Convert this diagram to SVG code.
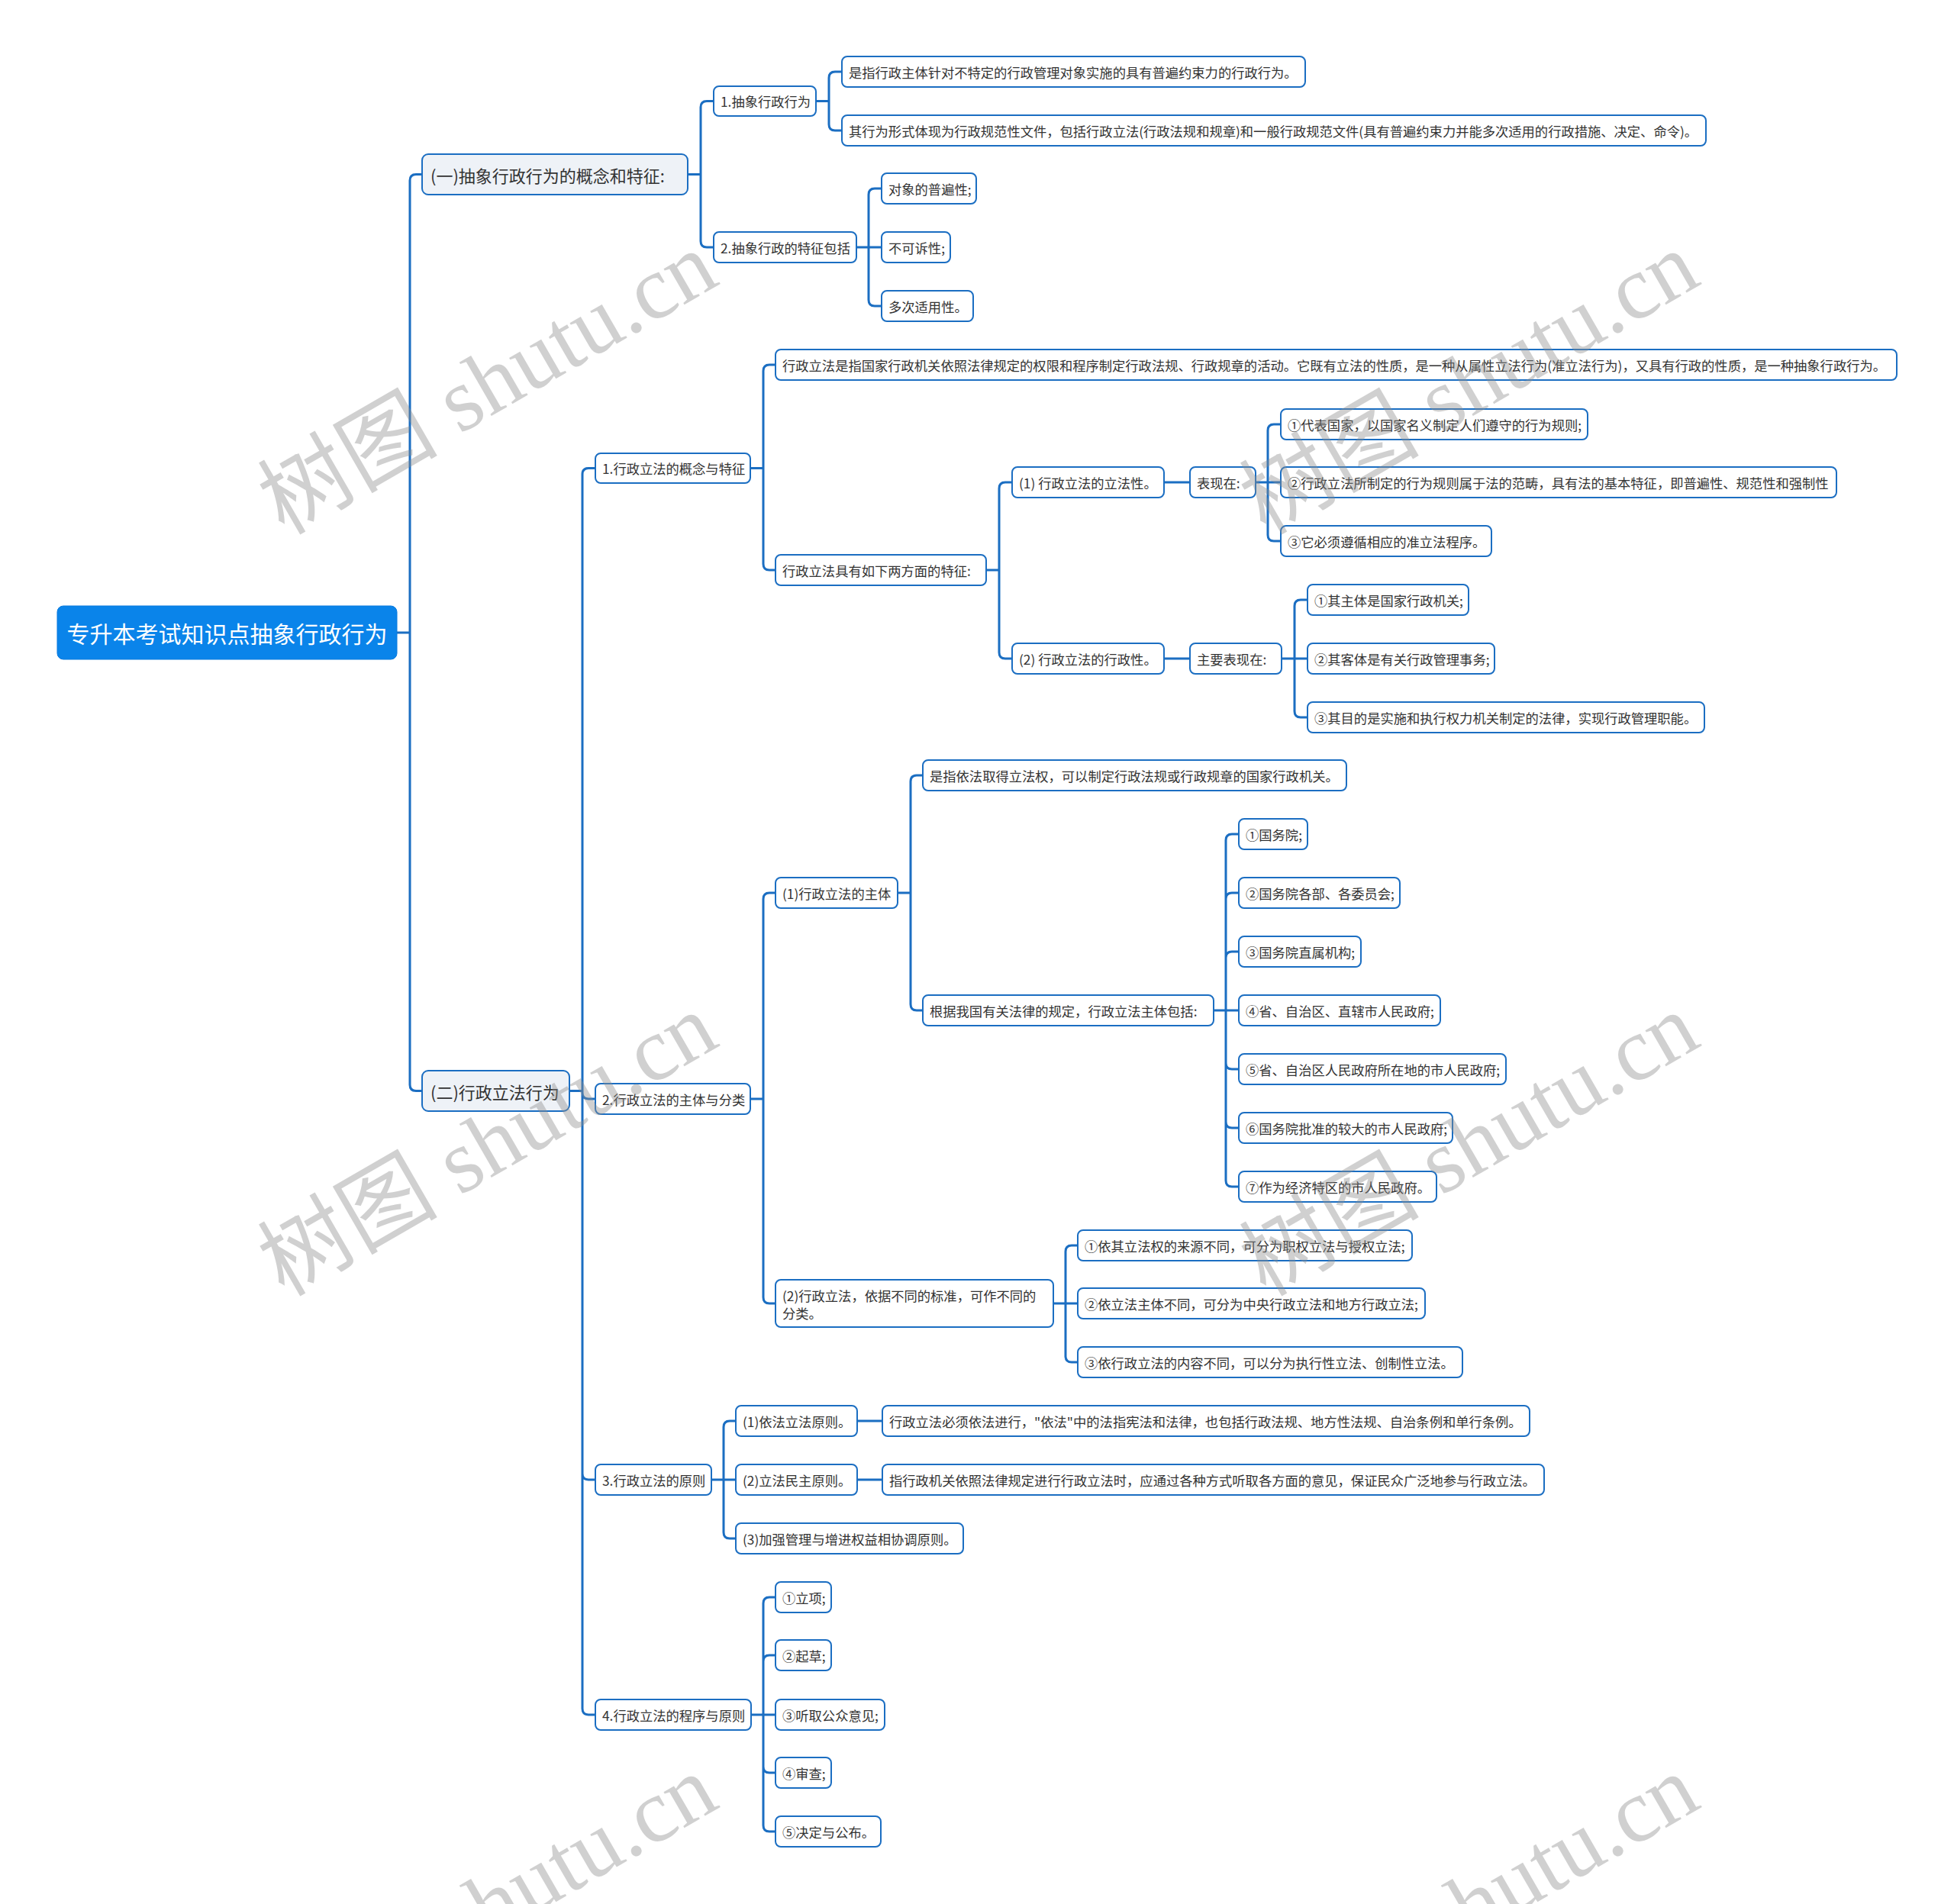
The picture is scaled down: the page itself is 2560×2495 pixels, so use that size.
<svg xmlns="http://www.w3.org/2000/svg" width="2560" height="2495" viewBox="0 0 2560 2495">
<style>
.n rect{fill:#ffffff;stroke:#1b6ec2;stroke-width:2}
.n text{font-family:"Noto Sans CJK SC","Liberation Sans",sans-serif;font-size:17.3px;fill:#333333;dominant-baseline:central}
.l1 rect{fill:#eef2f7;stroke:#1b6ec2;stroke-width:2}
.l1 text{font-family:"Noto Sans CJK SC","Liberation Sans",sans-serif;font-size:22px;fill:#333333;dominant-baseline:central}
.root rect{fill:#0a84ea;stroke:#0a7ade;stroke-width:1}
.root text{font-family:"Noto Sans CJK SC","Liberation Sans",sans-serif;font-size:30px;fill:#ffffff;dominant-baseline:central;text-anchor:middle}
.c path{fill:none;stroke:#1b6ec2;stroke-width:3;stroke-linecap:round}
.wm text{font-family:"Liberation Serif","Noto Sans CJK SC",serif;font-size:118px;fill:#8c8c8c;opacity:0.4}
</style>
<rect x="0" y="0" width="2560" height="2495" fill="#ffffff"/>
<g id="connectors" class="c">
<path d="M520 829 H537 M537 829 V236.5 Q537 228.5 545 228.5 H553 M537 829 V1421.5 Q537 1429.5 545 1429.5 H553"/>
<path d="M901 228.5 H918 M918 228.5 V140.5 Q918 132.5 926 132.5 H935 M918 228.5 V316 Q918 324 926 324 H935"/>
<path d="M1069 132.5 H1086 M1086 132.5 V102 Q1086 94 1094 94 H1103 M1086 132.5 V163 Q1086 171 1094 171 H1103"/>
<path d="M1122 324 H1155 M1138 324 V255 Q1138 247 1146 247 H1155 M1138 324 V393 Q1138 401 1146 401 H1155"/>
<path d="M746 1429.5 H763 M763 1429.5 V621.5 Q763 613.5 771 613.5 H780 M763 1429.5 V1432 Q763 1440 771 1440 H780 M763 1429.5 V1931 Q763 1939 771 1939 H780 M763 1429.5 V2239 Q763 2247 771 2247 H780"/>
<path d="M983 613.5 H1000 M1000 613.5 V486 Q1000 478 1008 478 H1016 M1000 613.5 V739 Q1000 747 1008 747 H1016"/>
<path d="M1292 747 H1309 M1309 747 V640 Q1309 632 1317 632 H1326 M1309 747 V855 Q1309 863 1317 863 H1326"/>
<path d="M1525 632 H1559 M1645 632 H1678 M1661 632 V564 Q1661 556 1669 556 H1678 M1661 632 V701 Q1661 709 1669 709 H1678"/>
<path d="M1525 863 H1559 M1679 863 H1713 M1696 863 V794 Q1696 786 1704 786 H1713 M1696 863 V932 Q1696 940 1704 940 H1713"/>
<path d="M983 1440 H1000 M1000 1440 V1178 Q1000 1170 1008 1170 H1016 M1000 1440 V1700 Q1000 1708 1008 1708 H1016"/>
<path d="M1176 1170 H1193 M1193 1170 V1024 Q1193 1016 1201 1016 H1209 M1193 1170 V1316 Q1193 1324 1201 1324 H1209"/>
<path d="M1590 1324 H1623 M1606 1324 V1101 Q1606 1093 1614 1093 H1623 M1606 1324 V1178 Q1606 1170 1614 1170 H1623 M1606 1324 V1255 Q1606 1247 1614 1247 H1623 M1606 1324 V1393 Q1606 1401 1614 1401 H1623 M1606 1324 V1470 Q1606 1478 1614 1478 H1623 M1606 1324 V1547 Q1606 1555 1614 1555 H1623"/>
<path d="M1380 1708 H1412 M1396 1708 V1640 Q1396 1632 1404 1632 H1412 M1396 1708 V1777 Q1396 1785 1404 1785 H1412"/>
<path d="M932 1939 H964 M948 1939 V1870 Q948 1862 956 1862 H964 M948 1939 V2008 Q948 2016 956 2016 H964 M1123 1862 H1156 M1123 1939 H1156"/>
<path d="M984 2247 H1016 M1000 2247 V2101 Q1000 2093 1008 2093 H1016 M1000 2247 V2177 Q1000 2169 1008 2169 H1016 M1000 2247 V2315 Q1000 2323 1008 2323 H1016 M1000 2247 V2392 Q1000 2400 1008 2400 H1016"/>
</g>
<g id="root" class="root"><rect x="75" y="794" width="445" height="70" rx="8"/><text x="297.5" y="829">专升本考试知识点抽象行政行为</text></g>
<g id="nA" class="l1"><rect x="553" y="202" width="348" height="53" rx="8"/><text x="564" y="228.5">(一)抽象行政行为的概念和特征:</text></g>
<g id="nB" class="l1"><rect x="553" y="1403" width="193" height="53" rx="8"/><text x="564" y="1429.5">(二)行政立法行为</text></g>
<g id="nA1" class="n"><rect x="935" y="113" width="134" height="39" rx="7"/><text x="944" y="132.5">1.抽象行政行为</text></g>
<g id="nA1a" class="n"><rect x="1103" y="74" width="607" height="40" rx="7"/><text x="1112" y="94">是指行政主体针对不特定的行政管理对象实施的具有普遍约束力的行政行为。</text></g>
<g id="nA1b" class="n"><rect x="1103" y="151" width="1132" height="40" rx="7"/><text x="1112" y="171">其行为形式体现为行政规范性文件，包括行政立法(行政法规和规章)和一般行政规范文件(具有普遍约束力并能多次适用的行政措施、决定、命令)。</text></g>
<g id="nA2" class="n"><rect x="935" y="304" width="187" height="40" rx="7"/><text x="944" y="324">2.抽象行政的特征包括</text></g>
<g id="nA2a" class="n"><rect x="1155" y="227" width="124" height="40" rx="7"/><text x="1164" y="247">对象的普遍性;</text></g>
<g id="nA2b" class="n"><rect x="1155" y="304" width="90" height="40" rx="7"/><text x="1164" y="324">不可诉性;</text></g>
<g id="nA2c" class="n"><rect x="1155" y="381" width="120" height="40" rx="7"/><text x="1164" y="401">多次适用性。</text></g>
<g id="nB1" class="n"><rect x="780" y="594" width="203" height="39" rx="7"/><text x="789" y="613.5">1.行政立法的概念与特征</text></g>
<g id="nB1a" class="n"><rect x="1016" y="458" width="1469" height="40" rx="7"/><text x="1025" y="478">行政立法是指国家行政机关依照法律规定的权限和程序制定行政法规、行政规章的活动。它既有立法的性质，是一种从属性立法行为(准立法行为)，又具有行政的性质，是一种抽象行政行为。</text></g>
<g id="nB1b" class="n"><rect x="1016" y="727" width="276" height="40" rx="7"/><text x="1025" y="747">行政立法具有如下两方面的特征:</text></g>
<g id="nB1b1" class="n"><rect x="1326" y="612" width="199" height="40" rx="7"/><text x="1335" y="632">(1) 行政立法的立法性。</text></g>
<g id="nB1b1x" class="n"><rect x="1559" y="612" width="86" height="40" rx="7"/><text x="1568" y="632">表现在:</text></g>
<g id="nC1" class="n"><rect x="1678" y="536" width="402" height="40" rx="7"/><text x="1687" y="556">①代表国家，以国家名义制定人们遵守的行为规则;</text></g>
<g id="nC2" class="n"><rect x="1678" y="612" width="728" height="40" rx="7"/><text x="1687" y="632">②行政立法所制定的行为规则属于法的范畴，具有法的基本特征，即普遍性、规范性和强制性</text></g>
<g id="nC3" class="n"><rect x="1678" y="689" width="276" height="40" rx="7"/><text x="1687" y="709">③它必须遵循相应的准立法程序。</text></g>
<g id="nB1b2" class="n"><rect x="1326" y="843" width="199" height="40" rx="7"/><text x="1335" y="863">(2) 行政立法的行政性。</text></g>
<g id="nB1b2x" class="n"><rect x="1559" y="843" width="120" height="40" rx="7"/><text x="1568" y="863">主要表现在:</text></g>
<g id="nD1" class="n"><rect x="1713" y="766" width="211" height="40" rx="7"/><text x="1722" y="786">①其主体是国家行政机关;</text></g>
<g id="nD2" class="n"><rect x="1713" y="843" width="245" height="40" rx="7"/><text x="1722" y="863">②其客体是有关行政管理事务;</text></g>
<g id="nD3" class="n"><rect x="1713" y="920" width="520" height="40" rx="7"/><text x="1722" y="940">③其目的是实施和执行权力机关制定的法律，实现行政管理职能。</text></g>
<g id="nB2" class="n"><rect x="780" y="1420" width="203" height="40" rx="7"/><text x="789" y="1440">2.行政立法的主体与分类</text></g>
<g id="nB2a" class="n"><rect x="1016" y="1150" width="160" height="40" rx="7"/><text x="1025" y="1170">(1)行政立法的主体</text></g>
<g id="nB2a1" class="n"><rect x="1209" y="996" width="555" height="40" rx="7"/><text x="1218" y="1016">是指依法取得立法权，可以制定行政法规或行政规章的国家行政机关。</text></g>
<g id="nB2a2" class="n"><rect x="1209" y="1304" width="381" height="40" rx="7"/><text x="1218" y="1324">根据我国有关法律的规定，行政立法主体包括:</text></g>
<g id="nE1" class="n"><rect x="1623" y="1073" width="90" height="40" rx="7"/><text x="1632" y="1093">①国务院;</text></g>
<g id="nE2" class="n"><rect x="1623" y="1150" width="211" height="40" rx="7"/><text x="1632" y="1170">②国务院各部、各委员会;</text></g>
<g id="nE3" class="n"><rect x="1623" y="1227" width="160" height="40" rx="7"/><text x="1632" y="1247">③国务院直属机构;</text></g>
<g id="nE4" class="n"><rect x="1623" y="1304" width="264" height="40" rx="7"/><text x="1632" y="1324">④省、自治区、直辖市人民政府;</text></g>
<g id="nE5" class="n"><rect x="1623" y="1381" width="350" height="40" rx="7"/><text x="1632" y="1401">⑤省、自治区人民政府所在地的市人民政府;</text></g>
<g id="nE6" class="n"><rect x="1623" y="1458" width="280" height="40" rx="7"/><text x="1632" y="1478">⑥国务院批准的较大的市人民政府;</text></g>
<g id="nE7" class="n"><rect x="1623" y="1535" width="259" height="40" rx="7"/><text x="1632" y="1555">⑦作为经济特区的市人民政府。</text></g>
<g id="nB2b" class="n"><rect x="1016" y="1677" width="364" height="62" rx="7"/><text x="1025" y="1697">(2)行政立法，依据不同的标准，可作不同的</text><text x="1025" y="1720">分类。</text></g>
<g id="nF1" class="n"><rect x="1412" y="1612" width="438" height="40" rx="7"/><text x="1421" y="1632">①依其立法权的来源不同，可分为职权立法与授权立法;</text></g>
<g id="nF2" class="n"><rect x="1412" y="1688" width="455" height="40" rx="7"/><text x="1421" y="1708">②依立法主体不同，可分为中央行政立法和地方行政立法;</text></g>
<g id="nF3" class="n"><rect x="1412" y="1765" width="504" height="40" rx="7"/><text x="1421" y="1785">③依行政立法的内容不同，可以分为执行性立法、创制性立法。</text></g>
<g id="nB3" class="n"><rect x="780" y="1919" width="152" height="40" rx="7"/><text x="789" y="1939">3.行政立法的原则</text></g>
<g id="nG1" class="n"><rect x="964" y="1842" width="159" height="40" rx="7"/><text x="973" y="1862">(1)依法立法原则。</text></g>
<g id="nG1a" class="n"><rect x="1156" y="1842" width="848" height="40" rx="7"/><text x="1165" y="1862">行政立法必须依法进行，"依法"中的法指宪法和法律，也包括行政法规、地方性法规、自治条例和单行条例。</text></g>
<g id="nG2" class="n"><rect x="964" y="1919" width="159" height="40" rx="7"/><text x="973" y="1939">(2)立法民主原则。</text></g>
<g id="nG2a" class="n"><rect x="1156" y="1919" width="867" height="40" rx="7"/><text x="1165" y="1939">指行政机关依照法律规定进行行政立法时，应通过各种方式听取各方面的意见，保证民众广泛地参与行政立法。</text></g>
<g id="nG3" class="n"><rect x="964" y="1996" width="298" height="40" rx="7"/><text x="973" y="2016">(3)加强管理与增进权益相协调原则。</text></g>
<g id="nB4" class="n"><rect x="780" y="2227" width="204" height="40" rx="7"/><text x="789" y="2247">4.行政立法的程序与原则</text></g>
<g id="nH1" class="n"><rect x="1016" y="2073" width="73" height="40" rx="7"/><text x="1025" y="2093">①立项;</text></g>
<g id="nH2" class="n"><rect x="1016" y="2149" width="73" height="40" rx="7"/><text x="1025" y="2169">②起草;</text></g>
<g id="nH3" class="n"><rect x="1016" y="2227" width="143" height="40" rx="7"/><text x="1025" y="2247">③听取公众意见;</text></g>
<g id="nH4" class="n"><rect x="1016" y="2303" width="73" height="40" rx="7"/><text x="1025" y="2323">④审查;</text></g>
<g id="nH5" class="n"><rect x="1016" y="2380" width="138" height="40" rx="7"/><text x="1025" y="2400">⑤决定与公布。</text></g>
<g id="watermarks" class="wm">
<text transform="translate(372 702) rotate(-30)">树图 shutu.cn</text>
<text transform="translate(1658 702) rotate(-30)">树图 shutu.cn</text>
<text transform="translate(372 1700) rotate(-30)">树图 shutu.cn</text>
<text transform="translate(1658 1700) rotate(-30)">树图 shutu.cn</text>
<text transform="translate(372 2698) rotate(-30)">树图 shutu.cn</text>
<text transform="translate(1658 2698) rotate(-30)">树图 shutu.cn</text>
</g>
</svg>
